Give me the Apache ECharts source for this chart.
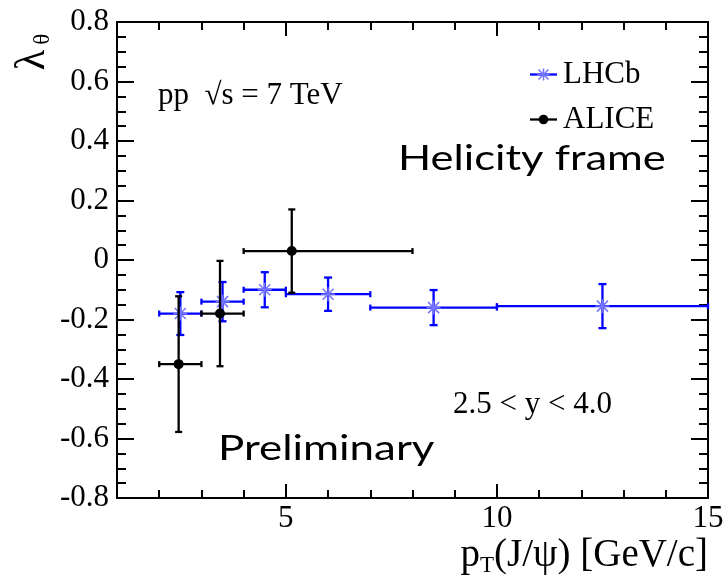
<!DOCTYPE html>
<html>
<head>
<meta charset="utf-8">
<script src="https://cdn.jsdelivr.net/npm/echarts@6/dist/echarts.min.js"></script>
<style>
  html, body { margin: 0; padding: 0; background: #ffffff; }
  #chart { width: 726px; height: 585px; background: #ffffff; }
</style>
</head>
<body>
<div id="chart"></div>
<script>
// LHCb J/psi polarization, lambda_theta in the helicity frame
const lhcbPt = [2.5, 3.5, 4.5, 6.0, 8.5, 12.5];
const lhcbBinLow = [2, 3, 4, 5, 7, 10];
const lhcbBinHigh = [3, 4, 5, 7, 10, 15];
const lhcbLambda = [-0.18, -0.14, -0.10, -0.115, -0.16, -0.155];
const lhcbErr = [0.072, 0.066, 0.059, 0.056, 0.059, 0.074];

// ALICE J/psi polarization, lambda_theta in the helicity frame
const alicePt = [2.46, 3.44, 5.14];
const aliceBinLow = [2, 3, 4];
const aliceBinHigh = [3, 4, 8];
const aliceLambda = [-0.35, -0.18, 0.03];
const aliceErr = [0.228, 0.177, 0.14];

// Axis ranges and tick labels
const xMin = 1, xMax = 15, xMinorStep = 1;
const xLabelValues = [5, 10, 15];
const xTickLabels = ['5', '10', '15'];
const yMin = -0.8, yMax = 0.8, yStep = 0.2;
const yLabelValues = [-0.8, -0.6, -0.4, -0.2, 0, 0.2, 0.4, 0.6, 0.8];
const yTickLabels = ['-0.8', '-0.6', '-0.4', '-0.2', '0', '0.2', '0.4', '0.6', '0.8'];

const SERIF = 'Liberation Serif';
const SANS = 'Lato';
const BLUE = '#0000ff';
const STAR = '#7373ff';

const rows = (pt, y, lo, hi, err) => pt.map((p, i) => [p, y[i], lo[i], hi[i], err[i]]);

function starShape(cx, cy, d, s, color, w) {
  const st = { stroke: color, lineWidth: w };
  return [
    { type: 'line', shape: { x1: cx - d, y1: cy - d, x2: cx + d, y2: cy + d }, style: st },
    { type: 'line', shape: { x1: cx - d, y1: cy + d, x2: cx + d, y2: cy - d }, style: st },
    { type: 'line', shape: { x1: cx - s, y1: cy, x2: cx + s, y2: cy }, style: st },
    { type: 'line', shape: { x1: cx, y1: cy - s, x2: cx, y2: cy + s }, style: st }
  ];
}

function errorBarRenderer(opt) {
  return function (params, api) {
    const x = api.value(0), y = api.value(1);
    const xl = api.value(2), xh = api.value(3), e = api.value(4);
    const c = api.coord([x, y]);
    const pl = api.coord([xl, y]);
    const ph = api.coord([xh, y]);
    const pt = api.coord([x, y + e]);
    const pb = api.coord([x, y - e]);
    const ls = { stroke: opt.color, lineWidth: opt.width };
    const children = [
      { type: 'line', shape: { x1: pl[0], y1: c[1], x2: ph[0], y2: c[1] }, style: ls },
      { type: 'line', shape: { x1: pl[0], y1: c[1] - opt.capX, x2: pl[0], y2: c[1] + opt.capX }, style: ls },
      { type: 'line', shape: { x1: ph[0], y1: c[1] - opt.capX, x2: ph[0], y2: c[1] + opt.capX }, style: ls },
      { type: 'line', shape: { x1: c[0], y1: pt[1], x2: c[0], y2: pb[1] }, style: ls },
      { type: 'line', shape: { x1: c[0] - opt.capY, y1: pt[1], x2: c[0] + opt.capY, y2: pt[1] }, style: ls },
      { type: 'line', shape: { x1: c[0] - opt.capY, y1: pb[1], x2: c[0] + opt.capY, y2: pb[1] }, style: ls }
    ];
    if (opt.marker === 'star') {
      starShape(c[0], c[1], 5.5, 7, STAR, 1.5).forEach(s => children.push(s));
    } else {
      children.push({ type: 'circle', shape: { cx: c[0], cy: c[1], r: 5 }, style: { fill: '#000000' } });
    }
    return { type: 'group', children: children };
  };
}

// Tick numbers placed at the axis positions given by the value scales
function tickLabelRenderer(dir) {
  return function (params, api) {
    const v = api.value(dir === 'y' ? 1 : 0);
    const label = dir === 'y' ? yTickLabels[params.dataIndex] : xTickLabels[params.dataIndex];
    const c = dir === 'y' ? api.coord([xMin, v]) : api.coord([v, yMin]);
    return {
      type: 'text',
      x: dir === 'y' ? c[0] - 8 : c[0],
      y: dir === 'y' ? c[1] : c[1] + 5,
      style: {
        text: label, fontFamily: SERIF, fontSize: 31, fill: '#000000',
        align: dir === 'y' ? 'right' : 'center',
        verticalAlign: dir === 'y' ? 'middle' : 'top'
      }
    };
  };
}

const tickStyle = { color: '#000000', width: 2 };

function xAxisDef(position, major) {
  const base = {
    type: 'value', position: position, min: xMin, max: xMax,
    axisLine: { show: true, onZero: false, lineStyle: { color: '#000000', width: 2 } },
    splitLine: { show: false },
    axisLabel: { show: false }
  };
  if (major) {
    base.axisTick = { show: true, inside: true, length: 14, lineStyle: tickStyle, customValues: xLabelValues };
  } else {
    base.interval = xMinorStep;
    base.axisTick = { show: true, inside: true, length: 8, lineStyle: tickStyle };
  }
  return base;
}

function yAxisDef(position) {
  return {
    type: 'value', position: position, min: yMin, max: yMax, interval: yStep,
    axisLine: { show: true, onZero: false, lineStyle: { color: '#000000', width: 2 } },
    axisTick: { show: true, inside: true, length: 17, lineStyle: tickStyle },
    minorTick: { show: true, splitNumber: 4, length: 9, lineStyle: tickStyle },
    splitLine: { show: false },
    axisLabel: { show: false }
  };
}

const chart = echarts.init(document.getElementById('chart'), null, { renderer: 'canvas' });

chart.setOption({
  animation: false,
  grid: { left: 117, top: 22, right: 18, bottom: 87 },
  xAxis: [
    xAxisDef('bottom', true),
    xAxisDef('bottom', false),
    xAxisDef('top', true),
    xAxisDef('top', false)
  ],
  yAxis: [
    yAxisDef('left'),
    yAxisDef('right')
  ],
  series: [
    {
      name: 'LHCb', type: 'custom',
      data: rows(lhcbPt, lhcbLambda, lhcbBinLow, lhcbBinHigh, lhcbErr),
      encode: { x: 0, y: 1 },
      renderItem: errorBarRenderer({ color: BLUE, width: 2.3, capX: 3, capY: 4, marker: 'star' })
    },
    {
      name: 'ALICE', type: 'custom',
      data: rows(alicePt, aliceLambda, aliceBinLow, aliceBinHigh, aliceErr),
      encode: { x: 0, y: 1 },
      renderItem: errorBarRenderer({ color: '#000000', width: 2.3, capX: 3, capY: 3.5, marker: 'dot' })
    },
    {
      name: 'y tick labels', type: 'custom', clip: false, silent: true,
      data: yLabelValues.map(v => [xMin, v]),
      encode: { x: 0, y: 1 },
      renderItem: tickLabelRenderer('y')
    },
    {
      name: 'x tick labels', type: 'custom', clip: false, silent: true,
      data: xLabelValues.map(v => [v, yMin]),
      encode: { x: 0, y: 1 },
      renderItem: tickLabelRenderer('x')
    }
  ],
  graphic: [
    // y-axis title: lambda_theta, read bottom to top
    {
      type: 'text', x: 33, y: 52, rotation: Math.PI / 2,
      style: {
        text: '{l|λ}{s|θ}', align: 'center', verticalAlign: 'middle', fill: '#000000',
        rich: {
          l: { fontFamily: SERIF, fontSize: 42, verticalAlign: 'middle', lineHeight: 42 },
          s: { fontFamily: SERIF, fontSize: 23, verticalAlign: 'bottom', padding: [0, 0, 0, 5] }
        }
      }
    },
    // x-axis title
    {
      type: 'text', right: 18, top: 536,
      style: {
        text: '{m|p}{s|T}{m|(J/ψ) [GeV/c]}', fill: '#000000',
        rich: {
          m: { fontFamily: SERIF, fontSize: 39, lineHeight: 44, verticalAlign: 'middle' },
          s: { fontFamily: SERIF, fontSize: 23, verticalAlign: 'bottom' }
        }
      }
    },
    // collision system
    {
      type: 'text', x: 158, y: 96,
      style: { text: 'pp  √s = 7 TeV', fontFamily: SERIF, fontSize: 31, fill: '#000000', verticalAlign: 'middle' }
    },
    // legend
    { type: 'line', shape: { x1: 530, y1: 74.5, x2: 557, y2: 74.5 }, style: { stroke: BLUE, lineWidth: 2.3 } },
    { type: 'group', children: starShape(543.5, 74.5, 5, 6, STAR, 1.5) },
    { type: 'text', x: 563, y: 74.5, style: { text: 'LHCb', fontFamily: SERIF, fontSize: 31, fill: '#000000', verticalAlign: 'middle' } },
    { type: 'line', shape: { x1: 530, y1: 119.5, x2: 557, y2: 119.5 }, style: { stroke: '#000000', lineWidth: 2.3 } },
    { type: 'circle', shape: { cx: 543.5, cy: 119.5, r: 4.8 }, style: { fill: '#000000' } },
    { type: 'text', x: 563, y: 119.5, style: { text: 'ALICE', fontFamily: SERIF, fontSize: 31, fill: '#000000', verticalAlign: 'middle' } },
    // frame and rapidity annotations
    {
      type: 'text', x: 398, y: 159, scaleX: 1.28,
      style: { text: 'Helicity frame', fontFamily: SANS, fontSize: 34, fill: '#000000', verticalAlign: 'middle' }
    },
    {
      type: 'text', x: 453, y: 405,
      style: { text: '2.5 < y < 4.0', fontFamily: SERIF, fontSize: 31, fill: '#000000', verticalAlign: 'middle' }
    },
    {
      type: 'text', x: 218, y: 449, scaleX: 1.29,
      style: { text: 'Preliminary', fontFamily: SANS, fontSize: 34, fill: '#000000', verticalAlign: 'middle' }
    }
  ]
});
</script>
</body>
</html>
